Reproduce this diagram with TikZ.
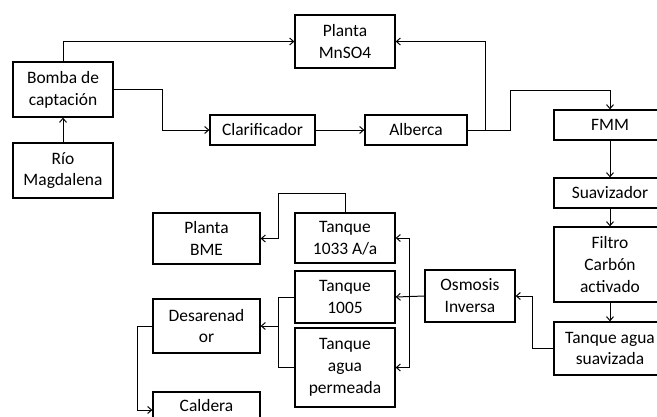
\documentclass[tikz,border=0pt]{standalone}
\usepackage{fontspec}
\setmainfont{Carlito}
\usetikzlibrary{arrows.meta}
\begin{document}
\begin{tikzpicture}[x=1bp,y=-1bp,
  box/.style={draw=black,line width=1.3pt,align=center,inner sep=1pt,font=\fontsize{17.5}{22}\selectfont},
  conn/.style={draw=black,line width=1pt},
  arr/.style={conn,-{Straight Barb[length=4pt,width=7pt]}}]
\useasboundingbox (0,0) rectangle (657,416);
\clip (0,0) rectangle (657,416);
\node[box,minimum width=100bp,minimum height=55bp] (bomba) at (63,89.5) {Bomba de\\captación};
\node[box,minimum width=100bp,minimum height=55bp] (rio) at (63,170.5) {Río\\Magdalena};
\node[box,minimum width=100bp,minimum height=53bp] (mnso4) at (345,41.5) {Planta\\MnSO4};
\node[box,minimum width=105bp,minimum height=30bp] (clar) at (262.5,130) {Clarificador};
\node[box,minimum width=102bp,minimum height=30bp] (alb) at (416,130) {Alberca};
\node[box,minimum width=112bp,minimum height=30bp] (fmm) at (610,125) {FMM};
\node[box,minimum width=112bp,minimum height=30bp] (suav) at (610,193) {Suavizador};
\node[box,minimum width=112bp,minimum height=75bp] (filtro) at (610,264.5) {Filtro\\Carbón\\activado};
\node[box,minimum width=112bp,minimum height=53bp] (tas) at (610,348.5) {Tanque agua\\suavizada};
\node[box,minimum width=90bp,minimum height=52bp] (osm) at (470,296) {Osmosis\\Inversa};
\node[box,minimum width=100bp,minimum height=50bp] (t1033) at (345,238) {Tanque\\1033 A/a};
\node[box,minimum width=100bp,minimum height=52bp] (t1005) at (345,297) {Tanque\\1005};
\node[box,minimum width=100bp,minimum height=79bp] (tperm) at (345,367.5) {Tanque\\agua\\permeada};
\node[box,minimum width=107bp,minimum height=51bp] (eme) at (206.5,238.5) {Planta\\BME};
\node[box,minimum width=107bp,minimum height=54bp] (desa) at (206.5,326) {Desarenad\\or};
\node[box,minimum width=107bp,minimum height=36bp,text depth=9bp] (cald) at (206.5,410) {Caldera};
% coordinates
\coordinate (c1) at (162,89.5);
\coordinate (c2) at (485,130);
\coordinate (c3) at (510,130);
\coordinate (c4) at (510,90);
\coordinate (c5) at (532,348.5);
\coordinate (c6) at (409,296);
\coordinate (c7) at (278,193);
\coordinate (c8) at (278,297);
\coordinate (c9) at (278,326);
\coordinate (c10) at (137,326);
% connectors
\draw[arr] (rio.north) -- (bomba.south);
\draw[arr] (bomba.north) |- (mnso4.west);
\draw[arr] (bomba.east) -- (c1) |- (clar.west);
\draw[arr] (clar.east) -- (alb.west);
\draw[arr] (alb.east) -- (c2) |- (mnso4.east);
\draw[arr] (c2) -- (c3) -- (c4) -| (fmm.north);
\draw[arr] (fmm.south) -- (suav.north);
\draw[arr] (suav.south) -- (filtro.north);
\draw[arr] (filtro.south) -- (tas.north);
\draw[arr] (tas.west) -- (c5) |- (osm.east);
\draw[arr] (osm.west) -- (t1005.east);
\draw[arr] (c6) |- (t1033.east);
\draw[arr] (c6) |- (tperm.east);
\draw[arr] (t1033.north) |- (c7) |- (eme.east);
\draw[conn] (t1005.west) -- (c8) |- (tperm.west);
\draw[arr] (c9) -- (desa.east);
\draw[arr] (desa.west) -- (c10) |- (cald.west);
\end{tikzpicture}
\end{document}
